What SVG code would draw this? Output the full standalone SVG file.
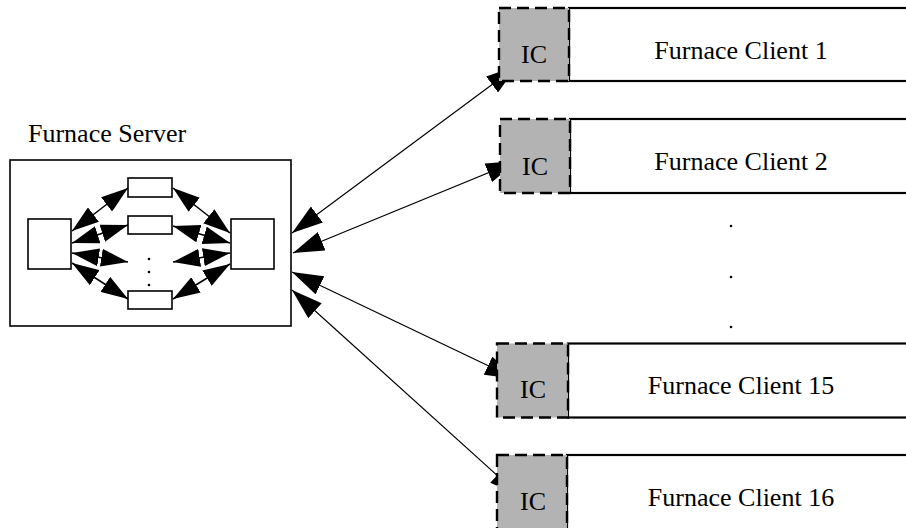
<svg xmlns="http://www.w3.org/2000/svg" width="906" height="528" viewBox="0 0 906 528">
<style>
  .box { fill: #fff; stroke: #000; stroke-width: 2.2; }
  .ic { fill: #b3b3b3; stroke: #000; stroke-width: 2.4; stroke-dasharray: 12 6; }
  .srv { fill: #fff; stroke: #000; stroke-width: 1.6; }
  .inner { fill: #fff; stroke: #000; stroke-width: 1.6; }
  .lbl { font-family: "Liberation Serif", "Times New Roman", serif; font-size: 26px; fill: #000; }
  .mid { text-anchor: middle; }
  .out { stroke: #000; stroke-width: 1.2; fill: none; marker-start: url(#bigHead); marker-end: url(#bigHead); }
  .in { stroke: #000; stroke-width: 1.5; fill: none; marker-start: url(#smallHead); marker-end: url(#smallHead); }
</style>
<defs>
  <marker id="bigHead" viewBox="0 0 31 20" refX="31" refY="10" markerWidth="31" markerHeight="20" markerUnits="userSpaceOnUse" orient="auto-start-reverse">
    <path d="M0,0 L31,10 L0,20 Z" fill="#000"/>
  </marker>
  <marker id="smallHead" viewBox="0 0 27 18" refX="27" refY="9" markerWidth="27" markerHeight="18" markerUnits="userSpaceOnUse" orient="auto-start-reverse">
    <path d="M0,0 L27,9 L0,18 Z" fill="#000"/>
  </marker>
</defs>

<g id="connectors">
  <line class="out" x1="292" y1="233" x2="517" y2="66"/>
  <line class="out" x1="293" y1="253" x2="517" y2="161"/>
  <line class="out" x1="292" y1="272" x2="516" y2="379"/>
  <line class="out" x1="292" y1="290" x2="520" y2="496"/>
</g>

<g id="furnace-server">
  <text class="lbl" x="28" y="142">Furnace Server</text>
  <rect class="srv" x="10" y="160" width="281" height="166"/>
  <rect id="server-left" class="inner" x="28" y="219" width="43" height="50"/>
  <rect id="server-right" class="inner" x="231" y="219" width="43" height="50"/>
  <rect id="worker-1" class="inner" x="128" y="178" width="44" height="19"/>
  <rect id="worker-2" class="inner" x="128" y="216" width="44" height="18"/>
  <rect id="worker-n" class="inner" x="128" y="291" width="44" height="18"/>
  <circle cx="149" cy="259" r="1.3" fill="#000"/>
  <circle cx="149" cy="272" r="1.3" fill="#000"/>
  <circle cx="149" cy="285" r="1.3" fill="#000"/>
</g>

<g id="inner-connectors">
  <line class="in" x1="72" y1="231" x2="128" y2="188"/>
  <line class="in" x1="72" y1="243" x2="128" y2="225"/>
  <line class="in" x1="72" y1="253" x2="128" y2="262"/>
  <line class="in" x1="72" y1="263" x2="128" y2="299"/>
  <line class="in" x1="230" y1="233" x2="173" y2="188"/>
  <line class="in" x1="230" y1="243" x2="173" y2="226"/>
  <line class="in" x1="230" y1="253" x2="173" y2="262"/>
  <line class="in" x1="230" y1="264" x2="173" y2="299"/>
</g>

<g id="client-1">
  <rect class="box" x="569" y="8" width="345" height="73"/>
  <rect class="ic" x="499" y="8" width="70" height="73"/>
  <text class="lbl mid" x="534" y="63">IC</text>
  <text class="lbl mid" x="741" y="59">Furnace Client 1</text>
</g>

<g id="client-2">
  <rect class="box" x="570" y="119" width="345" height="74"/>
  <rect class="ic" x="500" y="119" width="70" height="74"/>
  <text class="lbl mid" x="535" y="175">IC</text>
  <text class="lbl mid" x="741" y="170">Furnace Client 2</text>
</g>

<g id="ellipsis">
  <circle cx="731" cy="226" r="1.3" fill="#000"/>
  <circle cx="731" cy="277" r="1.3" fill="#000"/>
  <circle cx="731" cy="327" r="1.3" fill="#000"/>
</g>

<g id="client-15">
  <rect class="box" x="568" y="343.5" width="345" height="74"/>
  <rect class="ic" x="497" y="343.5" width="71" height="74"/>
  <text class="lbl mid" x="533" y="398">IC</text>
  <text class="lbl mid" x="741" y="394">Furnace Client 15</text>
</g>

<g id="client-16">
  <rect class="box" x="567" y="455" width="345" height="80"/>
  <rect class="ic" x="497" y="455" width="70" height="80"/>
  <text class="lbl mid" x="533" y="510">IC</text>
  <text class="lbl mid" x="741" y="506">Furnace Client 16</text>
</g>
</svg>
